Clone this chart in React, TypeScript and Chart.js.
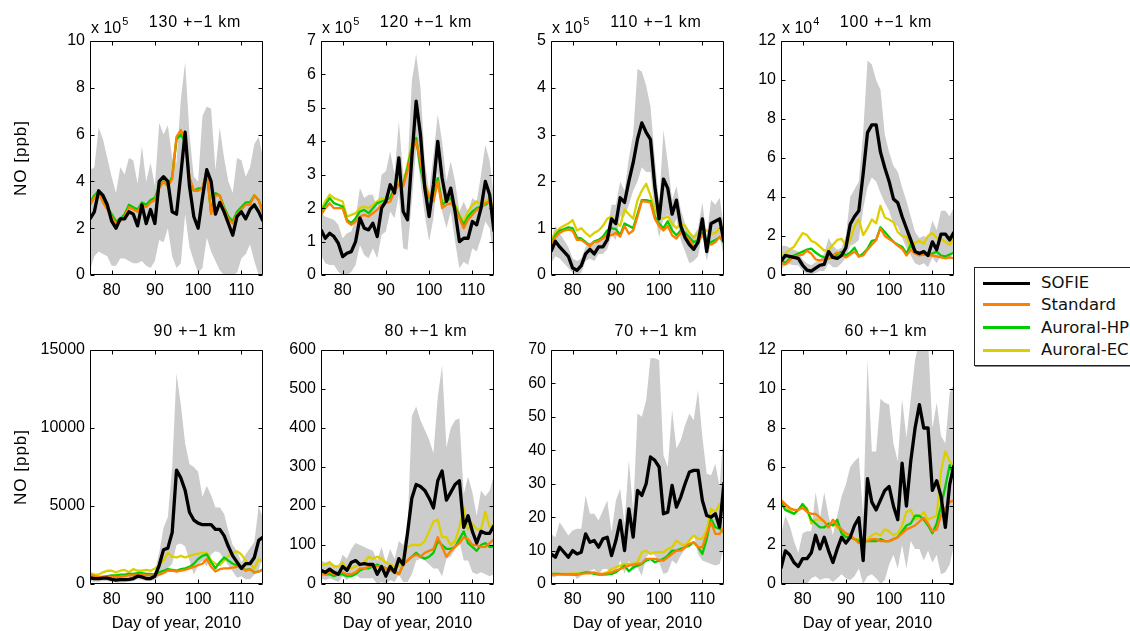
import React, { useEffect, useRef } from 'react';
import { Chart, registerables } from 'chart.js';
Chart.register(...registerables);

const days = [75,76,77,78,79,80,81,82,83,84,85,86,87,88,89,90,91,92,93,94,95,96,97,98,99,100,101,102,103,104,105,106,107,108,109,110,111,112,113,114,115];
const xTicks = [80, 90, 100, 110];

// 130 km (x 10^5)
const sofie130 = [2.4,2.7,3.6,3.4,3.0,2.3,2.0,2.4,2.4,2.7, 2.6,2.1,3.0,2.2,2.8,2.2,4.0,4.2,4.0,2.7, 2.6,4.3,6.1,3.8,2.5,2.0,3.3,4.5,4.0,2.6, 3.1,2.7,2.2,1.7,2.5,2.7,2.4,2.8,3.0,2.7, 2.3];
const std130 = [3.0,3.3,3.5,3.1,2.8,2.5,2.2,2.3,2.5,2.9, 2.8,2.7,3.0,2.9,3.1,3.2,3.7,4.0,3.8,4.1, 5.9,6.2,5.8,4.2,3.6,3.6,3.7,4.5,2.6,3.4, 3.4,2.8,2.4,2.2,2.6,2.8,3.0,3.0,3.4,3.2, 2.6];
const hp130 = [3.1,3.4,3.6,3.2,2.9,2.6,2.3,2.4,2.6,3.0, 2.9,2.8,3.1,3.0,3.2,3.3,3.8,4.0,3.8,4.2, 5.8,6.0,5.7,4.1,3.6,3.7,3.7,4.4,2.7,3.5, 3.4,2.9,2.5,2.3,2.7,2.9,3.1,3.1,3.4,3.2, 2.7];
const ec130 = [3.0,3.35,3.55,3.15,2.85,2.55,2.25,2.35,2.55,2.95, 2.85,2.75,3.05,2.95,3.15,3.25,3.75,4.0,3.8,4.15, 5.85,6.1,5.75,4.15,3.6,3.65,3.7,4.45,2.65,3.45, 3.4,2.85,2.45,2.25,2.65,2.85,3.05,3.05,3.4,3.2, 2.65];
const hi130 = [4.5,4.6,6.3,5.8,5.0,4.2,3.5,4.6,4.3,5.0, 4.9,3.9,5.5,4.0,4.8,3.8,6.5,6.0,6.4,5.0, 4.8,7.5,9.1,6.0,4.2,4.0,6.8,7.2,7.1,4.5, 6.3,5.0,4.0,3.5,5.0,4.9,4.2,4.6,5.6,5.9, 5.0];
const lo130 = [0.2,0.8,1.0,0.9,0.8,0.4,0.4,0.7,0.7,0.6, 0.5,0.5,0.6,0.4,0.3,0.6,1.5,1.4,2.0,0.8, 0.3,0.5,2.6,1.2,0.6,0.1,0.3,1.6,1.0,0.6, 0.2,0.0,0.0,0.0,0.1,0.7,0.9,1.3,0.6,0.0, 0.0];
const yTicks130 = [0, 2, 4, 6, 8, 10];

// 120 km (x 10^5)
const sofie120 = [1.35,1.1,1.25,1.15,0.95,0.55,0.65,0.7,1.0,1.7, 1.4,1.35,1.55,1.15,2.0,2.2,2.7,2.45,3.5,1.9, 1.65,3.5,5.2,4.2,2.6,1.75,2.7,4.0,2.9,2.2, 2.6,1.9,1.0,1.1,1.1,1.6,1.5,2.0,2.8,2.4, 1.3];
const std120 = [1.8,2.0,2.15,2.0,2.0,2.0,1.6,1.5,1.6,1.75, 1.8,1.75,1.85,1.95,2.1,2.15,2.2,2.5,2.7,2.65, 3.1,3.7,4.0,3.4,2.7,2.35,2.2,2.8,2.0,2.1, 2.15,2.0,1.7,1.4,1.65,1.8,1.95,2.0,2.15,2.2, 1.85];
const hp120 = [1.9,2.1,2.3,2.15,2.1,2.05,1.65,1.55,1.7,1.9, 1.95,1.85,2.0,2.15,2.2,2.25,2.3,2.6,2.7,2.7, 3.2,3.8,4.1,3.2,2.6,2.3,2.3,2.9,2.1,2.2, 2.3,2.05,1.75,1.5,1.75,1.9,2.0,2.05,2.1,2.2, 1.9];
const ec120 = [1.95,2.2,2.4,2.3,2.25,2.2,1.75,1.8,1.85,2.0, 2.05,2.0,2.1,2.2,2.3,2.3,2.3,2.6,2.8,2.7, 3.3,3.9,4.1,3.3,2.7,2.4,2.4,2.8,2.2,2.3, 2.3,2.1,1.8,1.6,1.9,2.1,2.2,2.1,2.2,2.3, 1.95];
const hi120 = [1.85,1.75,1.7,1.65,1.5,1.1,1.25,1.3,1.7,2.6, 2.3,2.4,2.4,2.0,3.0,3.1,3.7,3.0,4.6,3.0, 3.1,5.8,6.6,5.6,3.4,2.5,3.6,4.8,4.0,2.8, 3.4,2.8,1.9,2.2,1.9,2.3,2.2,3.0,3.9,3.4, 2.3];
const lo120 = [0.6,0.35,0.3,0.3,0.1,0.0,0.0,0.1,0.3,0.9, 0.6,0.5,0.8,0.5,1.2,1.3,1.9,1.7,2.4,0.8, 0.75,2.2,3.8,2.8,1.8,1.0,1.7,3.1,1.9,1.4, 1.9,1.0,0.2,0.4,0.3,0.8,0.7,1.1,1.6,1.4, 0.4];
const yTicks120 = [0, 1, 2, 3, 4, 5, 6, 7];

// 110 km (x 10^5)
const sofie110 = [0.5,0.72,0.6,0.5,0.4,0.15,0.1,0.2,0.45,0.55, 0.45,0.6,0.6,0.75,1.2,1.1,1.65,1.55,2.0,2.4, 2.9,3.25,3.05,2.9,1.9,1.2,2.05,1.85,1.3,1.6, 1.05,0.8,0.65,0.55,0.7,1.2,0.5,1.1,1.15,1.2, 0.7];
const std110 = [0.65,0.8,0.9,0.95,0.97,0.95,0.75,0.75,0.68,0.62, 0.7,0.72,0.78,0.85,0.85,0.9,0.82,1.05,0.88,0.95, 1.25,1.58,1.57,1.55,1.2,1.05,0.95,1.05,0.85,0.78, 0.9,0.85,0.75,0.6,0.7,0.85,0.7,0.65,0.7,0.82, 0.72];
const hp110 = [0.67,0.85,0.95,0.98,1.02,1.0,0.8,0.78,0.7,0.63, 0.72,0.75,0.82,0.95,1.0,0.98,0.85,1.1,1.05,1.0, 1.3,1.6,1.6,1.58,1.25,1.1,1.0,1.15,0.95,0.85, 0.95,0.9,0.8,0.7,0.75,0.9,0.75,0.7,0.75,0.8, 0.7];
const ec110 = [0.75,0.9,1.0,1.05,1.1,1.17,0.95,1.0,0.9,0.82, 0.9,0.95,1.05,1.2,1.25,1.1,1.05,1.4,1.3,1.2, 1.6,1.8,1.95,1.7,1.4,1.25,1.2,1.25,1.1,1.0, 1.1,1.05,0.9,0.8,0.9,1.0,0.95,0.88,0.9,1.0, 0.9];
const hi110 = [0.75,1.05,0.9,0.75,0.6,0.35,0.3,0.35,0.6,0.7, 0.65,0.75,0.8,0.95,1.5,1.5,2.0,1.8,2.5,3.0, 4.4,4.35,4.05,3.6,2.5,1.5,3.1,2.4,1.6,1.9, 1.4,1.1,0.9,0.85,1.0,1.55,0.8,1.6,1.5,1.65, 1.0];
const lo110 = [0.25,0.4,0.35,0.25,0.15,0.05,0.0,0.05,0.3,0.35, 0.3,0.45,0.45,0.55,0.85,0.75,1.25,1.25,1.5,1.8, 2.0,2.3,2.2,2.2,1.3,0.8,1.2,1.3,0.95,1.2, 0.75,0.5,0.25,0.3,0.4,0.9,0.3,0.7,0.7,0.8, 0.4];
const yTicks110 = [0, 1, 2, 3, 4, 5];

// 100 km (x 10^4)
const sofie100 = [0.7,1.0,0.95,0.9,0.85,0.5,0.25,0.2,0.35,0.5, 0.55,1.2,0.9,0.85,1.0,1.4,2.6,3.0,3.3,5.2, 7.3,7.7,7.7,6.3,5.5,4.8,3.9,3.7,3.0,2.4, 1.8,1.2,1.1,1.2,1.0,1.7,1.3,2.1,2.1,1.8, 2.2];
const std100 = [0.6,0.55,0.75,0.95,1.0,1.05,1.25,1.1,0.8,0.75, 0.8,0.85,1.0,1.15,1.05,0.9,1.05,1.2,0.95,1.0, 1.3,1.55,1.8,2.4,2.0,1.85,1.7,1.5,1.35,1.0, 1.3,1.1,1.0,1.05,1.0,1.0,0.95,0.9,0.85,0.9, 0.85];
const hp100 = [0.8,0.6,0.85,1.0,1.1,1.2,1.3,1.35,1.15,1.0, 0.9,0.85,0.9,1.05,1.2,1.0,1.15,1.4,0.95,1.1, 1.35,1.75,1.8,2.45,2.2,1.95,1.7,1.55,1.45,1.1, 1.55,1.2,1.15,1.1,1.05,1.1,1.2,1.0,0.95,1.05, 1.15];
const ec100 = [1.0,1.1,1.3,1.45,1.8,2.15,2.05,1.75,1.65,1.45, 1.25,1.3,1.55,1.8,1.85,1.5,1.8,2.5,2.85,2.05, 2.4,2.85,2.65,3.55,2.95,2.85,2.7,2.2,2.0,1.95, 1.4,1.65,1.75,1.6,2.0,2.15,1.9,1.85,1.7,1.55, 1.9];
const hi100 = [1.5,1.5,1.4,1.3,1.2,0.8,0.6,0.5,0.65,0.8, 1.1,1.9,1.5,1.3,1.4,2.0,4.0,4.4,4.8,7.3, 11.0,10.8,10.0,9.5,7.2,6.3,5.6,5.3,4.5,3.8, 3.0,2.2,1.9,2.0,1.9,2.8,2.3,3.3,3.3,3.0, 3.5];
const lo100 = [0.3,0.5,0.55,0.5,0.5,0.2,0.05,0.0,0.1,0.2, 0.2,0.6,0.4,0.4,0.6,0.9,1.5,1.6,1.8,3.4, 4.5,5.0,4.8,4.2,3.7,3.3,2.6,2.5,1.9,1.4, 1.0,0.6,0.5,0.6,0.4,0.9,0.6,1.0,1.0,0.8, 1.2];
const yTicks100 = [0, 2, 4, 6, 8, 10, 12];

// 90 km
const sofie90 = [400,350,350,380,380,300,250,280,280,300, 350,500,450,350,350,500,1200,2200,2300,3300, 7300,6800,6000,4600,4100,3900,3800,3800,3800,3500, 3500,3100,2400,1800,1400,1000,1300,1300,1700,2800, 3000];
const std90 = [600,500,450,450,450,450,450,450,500,550, 550,600,600,550,550,550,600,700,850,850, 800,850,900,1000,1100,1200,1300,1600,1100,800, 950,1000,1000,1050,1100,1100,850,950,750,800, 900];
const hp90 = [500,450,400,450,500,550,550,600,600,650, 650,700,700,650,650,600,750,850,950,900, 850,950,1000,1100,1300,1600,1800,1900,1400,1000, 1400,1700,1500,1300,1200,1000,900,950,750,800, 950];
const ec90 = [700,600,600,750,850,850,750,850,900,750, 950,850,850,900,850,1000,1200,1500,2000,1750, 1700,1800,1700,1800,1900,1950,2000,2000,1500,1300, 1200,1500,1800,2000,2100,1900,1500,1300,1000,1600, 1400];
const hi90 = [550,500,500,550,550,450,400,450,450,500, 550,700,650,550,550,800,2000,3600,4300,7500, 13500,11500,9000,7700,7500,7200,5600,6300,5700,4900, 4900,4500,3400,2500,2100,1400,1900,2300,2700,5000, 4200];
const lo90 = [200,150,150,200,200,150,100,100,100,150, 200,300,250,200,200,250,500,900,1000,1300, 2500,2600,2400,1500,600,1200,1500,1100,1900,2100, 2000,1600,1200,800,400,500,300,300,600,900, 1800];
const yTicks90 = [0, 5000, 10000, 15000];

// 80 km
const sofie80 = [35,30,38,30,25,45,35,55,60,50, 52,50,50,25,45,20,45,30,65,50, 130,220,255,250,240,220,195,265,290,215, 235,255,265,145,175,135,105,135,130,130, 150];
const std80 = [25,25,30,25,30,30,25,25,30,40, 40,45,45,45,45,40,35,30,25,50, 60,70,75,70,80,85,90,120,95,70, 85,95,105,120,115,100,100,95,95,105, 115];
const hp80 = [30,25,25,20,25,25,20,20,25,35, 40,40,45,50,45,40,35,35,25,50, 60,70,80,70,65,70,80,110,100,90, 90,95,115,135,105,95,85,100,105,95, 95];
const ec80 = [50,50,55,45,45,55,40,40,45,50, 55,70,65,70,65,55,50,45,45,65, 95,100,100,100,110,135,160,165,120,120, 100,110,145,195,140,155,140,140,185,145, 155];
const hi80 = [60,55,60,50,45,75,65,90,105,100, 95,90,85,60,95,55,90,65,110,100, 140,430,455,420,395,370,335,480,560,350, 400,420,425,230,275,235,175,240,225,240, 280];
const lo80 = [15,10,15,10,5,20,10,20,25,15, 15,15,15,0,5,0,10,5,25,5, 5,25,60,65,60,50,40,40,20,65, 70,90,110,60,60,30,25,30,25,20, 25];
const yTicks80 = [0, 100, 200, 300, 400, 500, 600];

// 70 km
const sofie70 = [9,8,11,9.5,8,10,9,9.5,15,12.5, 13,11,13.5,14,8.5,13,19,10,22.5,14, 28,26.5,30,38,37,35,21,21.5,29.5,23, 26,30,33.5,34,34,25,20.5,20,21,17, 30.5];
const std70 = [2.8,2.8,2.8,2.8,2.8,2.9,2.9,3.0,3.2,3.2, 3.4,3.0,3.0,3.2,3.5,4.0,4.5,5.0,5.5,5.8, 6.0,6.2,7.5,7.5,7.5,7.2,7.0,8.0,9.0,10.0, 10.0,11.0,12.0,12.5,11.0,11.0,15.0,18.5,15.0,15.0, 17.0];
const hp70 = [3.0,3.0,3.0,2.9,2.9,2.8,2.8,3.2,3.5,3.4, 3.0,2.8,2.8,2.9,3.0,3.5,4.5,5.5,3.8,5.0, 5.5,6.0,7.0,7.5,6.5,7.0,7.5,8.5,10.0,10.0, 10.5,11.0,11.5,12.5,11.0,9.0,13.5,19.5,17.0,16.5, 15.5];
const ec70 = [2.8,3.0,3.0,3.0,3.0,3.2,3.2,3.2,3.5,3.5, 3.5,3.0,3.0,3.5,4.5,5.0,5.5,6.0,6.0,6.0, 6.5,9.5,10.0,9.0,9.5,9.5,9.5,10.5,11.0,13.0, 12.0,11.5,13.0,14.5,13.5,13.5,16.0,22.5,21.5,24.0, 22.0];
const hi70 = [15,14,18.5,16.5,14.5,16,16.5,16.5,26.5,21, 21,19,22,25,15.5,25,28.5,18,37,22, 51,50,55,67.5,67.5,67,38.5,35,52,40.5, 43,47.5,51,49,58,44,33,32.5,36,29, 48];
const lo70 = [2,2,3.5,3,2.5,3.5,1.5,2.5,3.5,4, 4.5,3,4.5,4.5,2.5,3.5,7,3,7,4, 5,2.5,8,9.5,8.5,6.5,3,3.5,7,6, 8.5,10.5,13,15,9,7,6.5,6,5.5,6, 11];
const yTicks70 = [0, 10, 20, 30, 40, 50, 60, 70];

// 60 km
const sofie60 = [0.8,1.7,1.5,1.1,0.9,1.3,1.3,1.6,2.5,1.8, 2.4,1.7,1.1,1.8,2.4,2.1,2.4,3.0,3.4,1.2, 5.4,4.2,3.8,4.3,4.8,5.0,4.0,3.3,6.2,4.0, 6.3,8.0,9.2,8.0,8.0,4.8,5.3,4.5,2.9,5.1, 6.1];
const std60 = [4.3,4.1,3.9,3.8,3.8,3.9,3.7,3.6,3.6,3.4, 3.2,2.9,3.3,3.0,2.8,2.6,2.5,2.3,2.1,2.2, 2.2,2.3,2.3,2.2,2.2,2.2,2.3,2.4,2.6,2.8, 2.9,3.0,3.2,3.4,3.1,2.7,2.8,3.5,3.9,4.2, 4.3];
const hp60 = [4.2,3.8,3.7,3.6,3.8,4.1,3.8,3.3,3.1,2.9, 2.9,3.1,3.0,3.3,2.6,2.4,2.4,2.3,2.2,2.2, 2.2,2.2,2.2,2.3,2.2,2.2,2.3,2.4,2.7,3.0, 3.1,3.5,3.5,3.3,3.0,2.6,3.1,4.0,5.0,6.1, 5.5];
const ec60 = [4.3,4.0,3.8,3.6,3.8,4.0,3.9,3.1,3.3,3.3, 3.2,3.0,3.1,2.9,2.7,2.5,2.4,2.3,2.3,2.2, 2.3,2.5,2.6,2.5,2.8,2.7,2.5,2.6,3.0,3.7, 3.8,3.3,3.4,3.7,3.3,3.4,3.5,5.8,6.8,6.3, 6.0];
const hi60 = [2.5,3.5,3.0,2.2,1.6,2.6,2.7,2.7,4.7,3.4, 4.7,3.5,2.5,3.5,4.5,5.1,6.0,6.3,6.5,3.5, 11.5,6.8,6.8,9.5,9.3,9.2,7.2,6.3,9.5,7.5, 9.5,11.5,12.5,12.5,12.5,8.0,9.3,7.6,7.2,9.8, 10.3];
const lo60 = [0,0,0,0,0,0,0,0.3,0.4,0.2, 0.3,0.3,0.1,0.3,0.5,0.3,0.2,0.4,0.8,0, 0.4,0.5,0.3,0,0.2,1.0,1.5,0.8,2.0,0.8, 2.2,1.8,1.8,1.2,1.7,1.1,1.5,0.5,0.6,1.0, 2.0];
const yTicks60 = [0, 2, 4, 6, 8, 10, 12];

const seriesNames = ['SOFIE', 'Standard', 'Auroral-HP', 'Auroral-EC'];
const seriesColors = ['#000000', '#ff8000', '#00cc00', '#dccf00'];
const BAND = '#cccccc';
const yAxisTitle = 'NO [ppb]';
const xAxisTitle = 'Day of year, 2010';

type Panel = {
  title: string; exp: string | null; yMax: number; yTicks: number[];
  sofie: number[]; std: number[]; hp: number[]; ec: number[]; hi: number[]; lo: number[];
  showY: boolean; showX: boolean;
};

const panels: Panel[] = [
  { title: '130 +\u22121 km', exp: '5', yMax: 10, yTicks: yTicks130, sofie: sofie130, std: std130, hp: hp130, ec: ec130, hi: hi130, lo: lo130, showY: true, showX: false },
  { title: '120 +\u22121 km', exp: '5', yMax: 7, yTicks: yTicks120, sofie: sofie120, std: std120, hp: hp120, ec: ec120, hi: hi120, lo: lo120, showY: false, showX: false },
  { title: '110 +\u22121 km', exp: '5', yMax: 5, yTicks: yTicks110, sofie: sofie110, std: std110, hp: hp110, ec: ec110, hi: hi110, lo: lo110, showY: false, showX: false },
  { title: '100 +\u22121 km', exp: '4', yMax: 12, yTicks: yTicks100, sofie: sofie100, std: std100, hp: hp100, ec: ec100, hi: hi100, lo: lo100, showY: false, showX: false },
  { title: '90 +\u22121 km', exp: null, yMax: 15000, yTicks: yTicks90, sofie: sofie90, std: std90, hp: hp90, ec: ec90, hi: hi90, lo: lo90, showY: true, showX: true },
  { title: '80 +\u22121 km', exp: null, yMax: 600, yTicks: yTicks80, sofie: sofie80, std: std80, hp: hp80, ec: ec80, hi: hi80, lo: lo80, showY: false, showX: true },
  { title: '70 +\u22121 km', exp: null, yMax: 70, yTicks: yTicks70, sofie: sofie70, std: std70, hp: hp70, ec: ec70, hi: hi70, lo: lo70, showY: false, showX: true },
  { title: '60 +\u22121 km', exp: null, yMax: 12, yTicks: yTicks60, sofie: sofie60, std: std60, hp: hp60, ec: ec60, hi: hi60, lo: lo60, showY: false, showX: true },
];

// layout (plot-area left/top in page pixels)
const plotLefts = [90, 321, 551, 781];
const plotTops = [41, 350];
const PW = 173, PH = 234, PADL = 90, PADT = 41, PADR = 10, PADB = 47;
const FONT = '"Liberation Sans", Arial, Helvetica, sans-serif';

function makeFramePlugin(p: Panel) {
  return {
    id: 'frame',
    afterDatasetsDraw(chart: any) {
      const { ctx, chartArea: a, scales } = chart;
      ctx.save();
      ctx.strokeStyle = '#000';
      ctx.lineWidth = 1;
      const L = Math.round(a.left) + 0.5, R = Math.round(a.right) - 0.5;
      const T = Math.round(a.top) + 0.5, B = Math.round(a.bottom) - 0.5;
      ctx.beginPath();
      ctx.rect(L, T, R - L, B - T);
      for (const t of scales.x.ticks) {
        const x = Math.round(scales.x.getPixelForValue(t.value)) + 0.5;
        ctx.moveTo(x, B); ctx.lineTo(x, B - 4);
        ctx.moveTo(x, T); ctx.lineTo(x, T + 4);
      }
      for (const t of scales.y.ticks) {
        const y = Math.round(scales.y.getPixelForValue(t.value)) + 0.5;
        ctx.moveTo(L, y); ctx.lineTo(L + 4, y);
        ctx.moveTo(R, y); ctx.lineTo(R - 4, y);
      }
      ctx.stroke();
      ctx.fillStyle = '#000';
      ctx.font = `16px ${FONT}`;
      (ctx as any).letterSpacing = '0.8px';
      ctx.textAlign = 'center';
      ctx.textBaseline = 'alphabetic';
      ctx.fillText(p.title, (a.left + a.right) / 2 + 18.5, a.top - 14);
      (ctx as any).letterSpacing = '0px';
      if (p.exp) {
        ctx.textAlign = 'left';
        ctx.font = `16px ${FONT}`;
        ctx.fillText('x 10', a.left + 1, a.top - 8);
        const w = ctx.measureText('x 10').width;
        ctx.font = `11px ${FONT}`;
        ctx.fillText(p.exp, a.left + 1 + w + 1, a.top - 16);
      }
      if (p.showY) {
        ctx.save();
        ctx.font = `17px ${FONT}`;
        (ctx as any).letterSpacing = '1px';
        ctx.translate(21, (a.top + a.bottom) / 2);
        ctx.rotate(-Math.PI / 2);
        ctx.textAlign = 'center';
        ctx.textBaseline = 'middle';
        ctx.fillText(yAxisTitle, 0, 0);
        ctx.restore();
      }
      if (p.showX) {
        ctx.font = `16.5px ${FONT}`;
        ctx.textAlign = 'center';
        ctx.textBaseline = 'middle';
        ctx.fillText(xAxisTitle, (a.left + a.right) / 2, a.bottom + 39);
      }
      ctx.restore();
    },
  };
}

function PanelChart({ p, left, top }: { p: Panel; left: number; top: number }) {
  const ref = useRef<HTMLCanvasElement>(null);
  useEffect(() => {
    if (!ref.current) return;
    const pts = (arr: number[]) => days.map((d, i) => ({ x: d, y: arr[i] }));
    const line = (label: string, arr: number[], color: string, width: number) => ({
      label, data: pts(arr), borderColor: color, backgroundColor: color, borderWidth: width,
      pointRadius: 0, fill: false, tension: 0, borderJoinStyle: 'round' as const, borderCapStyle: 'butt' as const,
    });
    const chart = new Chart(ref.current, {
      type: 'line',
      data: {
        datasets: [
          line(seriesNames[0], p.sofie, seriesColors[0], 3.3),
          line(seriesNames[1], p.std, seriesColors[1], 2.3),
          line(seriesNames[2], p.hp, seriesColors[2], 2.3),
          line(seriesNames[3], p.ec, seriesColors[3], 2.3),
          { label: 'max', data: pts(p.hi), borderWidth: 0, borderColor: 'rgba(0,0,0,0)', backgroundColor: BAND, pointRadius: 0, fill: '+1', tension: 0 },
          { label: 'min', data: pts(p.lo), borderWidth: 0, borderColor: 'rgba(0,0,0,0)', backgroundColor: BAND, pointRadius: 0, fill: false, tension: 0 },
        ],
      },
      options: {
        animation: false,
        responsive: false,
        events: [],
        layout: { padding: { top: PADT, right: PADR, left: 0, bottom: 0 } },
        plugins: { legend: { display: false }, tooltip: { enabled: false }, title: { display: false } },
        scales: {
          x: {
            type: 'linear', min: 75, max: 115,
            grid: { display: false, drawTicks: false },
            border: { display: false },
            afterBuildTicks: (s: any) => { s.ticks = xTicks.map((v) => ({ value: v })); },
            afterFit: (s: any) => { s.height = PADB; },
            ticks: { padding: 6, color: '#000', font: { family: FONT, size: 16 }, maxRotation: 0, autoSkip: false, callback: (v: any) => String(v) },
          },
          y: {
            type: 'linear', min: 0, max: p.yMax,
            grid: { display: false, drawTicks: false },
            border: { display: false },
            afterBuildTicks: (s: any) => { s.ticks = p.yTicks.map((v) => ({ value: v })); },
            afterFit: (s: any) => { s.width = PADL; },
            ticks: { padding: 5, color: '#000', font: { family: FONT, size: 16 }, autoSkip: false, callback: (v: any) => String(v) },
          },
        },
      },
      plugins: [makeFramePlugin(p)],
    });
    return () => chart.destroy();
  }, [p]);
  const w = PADL + PW + PADR, h = PADT + PH + PADB;
  return (
    <canvas ref={ref} width={w} height={h}
      style={{ position: 'absolute', left: left - PADL, top: top - PADT, width: w, height: h }} />
  );
}

const legendRowCenters = [15, 36.5, 59.5, 82];

function Legend() {
  return (
    <div style={{ position: 'absolute', left: 974, top: 267, width: 200, height: 97, border: '1px solid #222', boxShadow: '1px 1px 0 #888', background: '#fff', fontFamily: '"DejaVu Sans", sans-serif', fontSize: 16.5, color: '#111' }}>
      {seriesNames.map((n, i) => (
        <React.Fragment key={n}>
          <div style={{ position: 'absolute', left: 8, top: legendRowCenters[i] - 1.5, width: 47, height: 3, background: seriesColors[i] }} />
          <div style={{ position: 'absolute', left: 66, top: legendRowCenters[i] - 10, height: 20, lineHeight: '20px', whiteSpace: 'nowrap' }}>{n}</div>
        </React.Fragment>
      ))}
    </div>
  );
}

export default function App() {
  return (
    <div style={{ position: 'absolute', left: 0, top: 0, width: 1130, height: 631, overflow: 'hidden', background: '#fff' }}>
      {panels.map((p, i) => (
        <PanelChart key={i} p={p} left={plotLefts[i % 4]} top={plotTops[Math.floor(i / 4)]} />
      ))}
      <Legend />
    </div>
  );
}
